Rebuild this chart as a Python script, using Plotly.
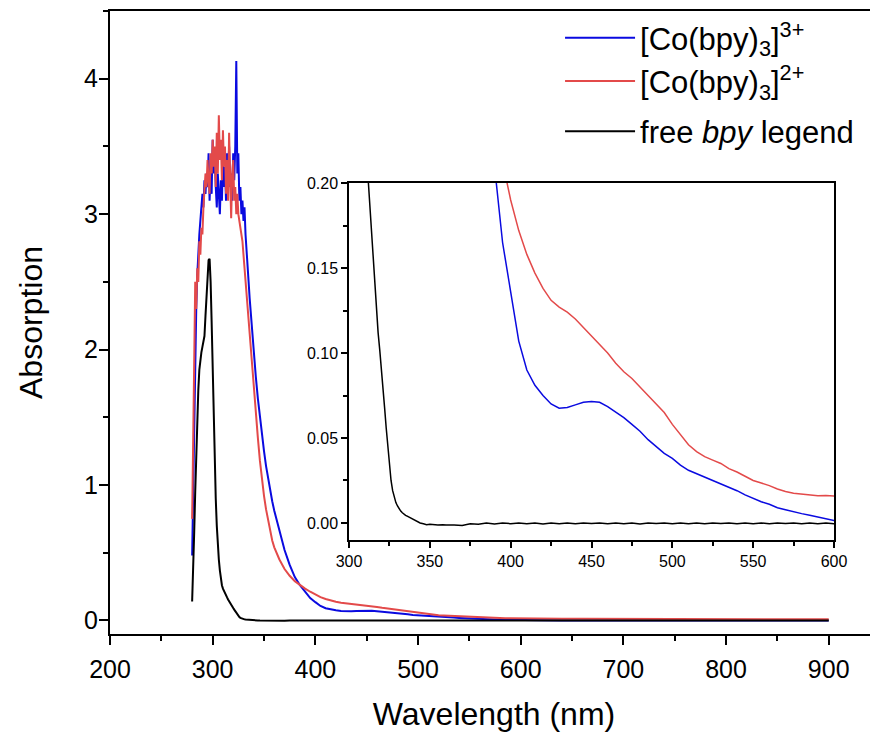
import plotly.graph_objects as go

# wavelength grid (nm) shared by all three spectra
wl = list(range(280, 337)) + [338, 340, 342, 344, 346, 348, 350, 352, 355, 358] + \
     list(range(360, 605, 5)) + list(range(620, 920, 20))

# [Co(bpy)3]3+
co3 = [0.48, 1.0, 1.5, 1.95, 2.3, 2.55, 2.75, 2.85, 2.95, 3.05,
       3.15, 3.05, 3.25, 3.15, 3.3, 3.2, 3.45, 3.1, 3.3, 3.15,
       3.55, 3.3, 3.45, 3.2, 3.05, 3.3, 3.15, 3.0, 3.25, 3.1,
       3.4, 3.2, 3.35, 3.1, 3.45, 3.25, 3.5, 3.2, 3.3, 3.1,
       3.45, 3.25, 3.5, 4.13, 3.3, 3.45, 3.1, 3.2, 3.0, 3.1,
       2.95, 3.05, 2.85, 2.7, 2.6, 2.5, 2.38,
       2.17, 1.97, 1.8, 1.64, 1.5, 1.37, 1.25, 1.14, 1.0, 0.88,
       0.81, 0.66, 0.52, 0.41, 0.32, 0.26, 0.21, 0.165, 0.135, 0.107,
       0.09, 0.081, 0.075, 0.07, 0.0675, 0.068, 0.0695, 0.071, 0.0715, 0.071,
       0.0685, 0.0655, 0.062, 0.058, 0.054, 0.049, 0.045, 0.041, 0.038, 0.034,
       0.031, 0.029, 0.027, 0.025, 0.023, 0.021, 0.019, 0.0165, 0.0145, 0.0125,
       0.011, 0.009, 0.0078, 0.0065, 0.0055, 0.0045, 0.0035, 0.0025, 0.0015,
       0.001, 0.0, 0.0005, -0.0005, 0.0, -0.001, 0.0, -0.0005, 0.0, -0.001,
       0.0, -0.0005, 0.0, -0.001, 0.0]

# [Co(bpy)3]2+
co2 = [0.75, 1.2, 1.9, 2.5, 2.3, 2.6, 2.5, 2.8, 2.7, 2.9,
       2.85, 3.05, 3.2, 3.3, 3.2, 3.4, 3.25, 3.15, 3.45, 3.3,
       3.55, 3.35, 3.5, 3.2, 3.6, 3.3, 3.73, 3.4, 3.55, 3.25,
       3.62, 3.35, 3.5, 3.15, 3.4, 3.1, 3.6, 3.2, 2.97, 3.3,
       3.4, 3.1, 3.2, 3.0, 3.15, 3.0, 2.95, 2.92, 2.85, 2.8,
       2.7, 2.6, 2.55, 2.45, 2.37, 2.25, 2.15,
       1.95, 1.72, 1.52, 1.35, 1.18, 1.04, 0.92, 0.82, 0.69, 0.59,
       0.54, 0.45, 0.38, 0.33, 0.29, 0.26, 0.235, 0.212, 0.19, 0.172,
       0.158, 0.147, 0.138, 0.131, 0.127, 0.124, 0.12, 0.115, 0.11, 0.105,
       0.1, 0.094, 0.089, 0.085, 0.08, 0.0755, 0.0705, 0.065, 0.058, 0.052,
       0.046, 0.042, 0.039, 0.037, 0.035, 0.032, 0.03, 0.0275, 0.025, 0.0235,
       0.022, 0.02, 0.0185, 0.0175, 0.017, 0.0165, 0.016, 0.0162, 0.0158,
       0.014, 0.013, 0.012, 0.012, 0.011, 0.011, 0.01, 0.01, 0.009, 0.009,
       0.009, 0.008, 0.008, 0.008, 0.008]

# free bpy ligand
bpy = [0.14, 0.35, 0.65, 0.95, 1.25, 1.5, 1.7, 1.85, 1.93, 1.98,
       2.02, 2.05, 2.1, 2.25, 2.42, 2.58, 2.66, 2.67, 2.5, 2.2,
       1.85, 1.5, 1.15, 0.9, 0.7, 0.55, 0.45, 0.37, 0.3, 0.26,
       0.235, 0.215, 0.2, 0.185, 0.17, 0.155, 0.14, 0.125, 0.112, 0.102,
       0.092, 0.08, 0.068, 0.056, 0.045, 0.035, 0.025, 0.019, 0.015, 0.012,
       0.01, 0.008, 0.007, 0.006, 0.005, 0.0045, 0.004,
       0.003, 0.002, 0.001, 0.0, -0.0005, -0.001, -0.0008, -0.001, -0.0012, -0.001,
       -0.0012, -0.0012, -0.0015, -0.0005, -0.0008, 0.0, -0.0006, 0.0, -0.0004, 0.0,
       -0.0005, 0.0, -0.0006, 0.0, -0.0004, 0.0, -0.0005, 0.0, -0.0003, 0.0,
       -0.0005, 0.0, -0.0004, 0.0, -0.0006, 0.0, -0.0003, 0.0, -0.0005, 0.0,
       -0.0004, 0.0, -0.0005, 0.0, -0.0003, 0.0, -0.0005, 0.0, -0.0004, 0.0,
       -0.0005, 0.0, -0.0003, 0.0, -0.0005, 0.0, -0.0004, 0.0, -0.0004,
       0.0, -0.0005, 0.0, -0.0005, 0.0, -0.0004, 0.0, -0.0005, 0.0, -0.0004,
       0.0, -0.0005, 0.0, -0.0004, 0.0]

names = ["[Co(bpy)<sub>3</sub>]<sup>3+</sup>", "[Co(bpy)<sub>3</sub>]<sup>2+</sup>",
         "free <i>bpy</i> legend"]
groups = ["co", "co", "lig"]
colors = ["#0a0ae0", "#e34a4a", "#000000"]
series = [co3, co2, bpy]

fig = go.Figure()
for y, name, c, g in zip(series, names, colors, groups):
    fig.add_trace(go.Scatter(x=wl, y=y, name=name, mode="lines", legendgroup=g,
                             line=dict(color=c, width=2)))
# inset (zoom of the low-absorbance region)
for y, c in zip(series, colors):
    fig.add_trace(go.Scatter(x=wl, y=y, mode="lines", showlegend=False,
                             line=dict(color=c, width=1.5),
                             xaxis="x2", yaxis="y2"))

font = "Liberation Sans, Arial, sans-serif"
tick_main = dict(showline=True, linecolor="black", linewidth=2,
                 ticks="outside", ticklen=9, tickwidth=2, tickcolor="black",
                 showgrid=False, zeroline=False, tickfont=dict(size=25),
                 automargin=False)
tick_inset = dict(showline=True, linecolor="black", linewidth=1.5, mirror=True,
                  ticks="outside", ticklen=6, tickwidth=1.5, tickcolor="black",
                  showgrid=False, zeroline=False, tickfont=dict(size=16),
                  automargin=False)

# page body adds an 8px offset, so the figure is made 8px smaller
fig.update_layout(
    width=870, height=726,
    margin=dict(l=102, r=0, t=3, b=100),
    paper_bgcolor="white", plot_bgcolor="white",
    font=dict(family=font, color="black"),
    showlegend=True,
    legend=dict(x=0.586, y=1.0, xanchor="left", yanchor="top",
                font=dict(size=31), itemwidth=70, bgcolor="rgba(0,0,0,0)",
                tracegroupgap=7),
    xaxis=dict(range=[200, 948], tickvals=list(range(200, 1000, 100)), mirror=True,
               minor=dict(dtick=50, ticks="outside", ticklen=5, tickwidth=2,
                          tickcolor="black"),
               ticklabelstandoff=3,
               title=dict(text="Wavelength (nm)", font=dict(size=32), standoff=21),
               **tick_main),
    yaxis=dict(range=[-0.1, 4.5], tickvals=[0, 1, 2, 3, 4],
               minor=dict(dtick=0.5, ticks="outside", ticklen=5, tickwidth=2,
                          tickcolor="black"),
               ticklabelstandoff=-4,
               title=dict(text="Absorption", font=dict(size=32), standoff=32),
               **tick_main),
    xaxis2=dict(domain=[0.3112, 0.9427], anchor="y2", range=[300, 600],
                tickvals=list(range(300, 650, 50)),
                minor=dict(dtick=25, ticks="outside", ticklen=4, tickwidth=1.5,
                           tickcolor="black"),
                **tick_inset),
    yaxis2=dict(domain=[0.1509, 0.7239], anchor="x2", range=[-0.01, 0.2],
                tickvals=[0, 0.05, 0.1, 0.15, 0.2], tickformat=".2f",
                minor=dict(dtick=0.025, ticks="outside", ticklen=4, tickwidth=1.5,
                           tickcolor="black"),
                **tick_inset),
)

fig.write_html("out.html")
